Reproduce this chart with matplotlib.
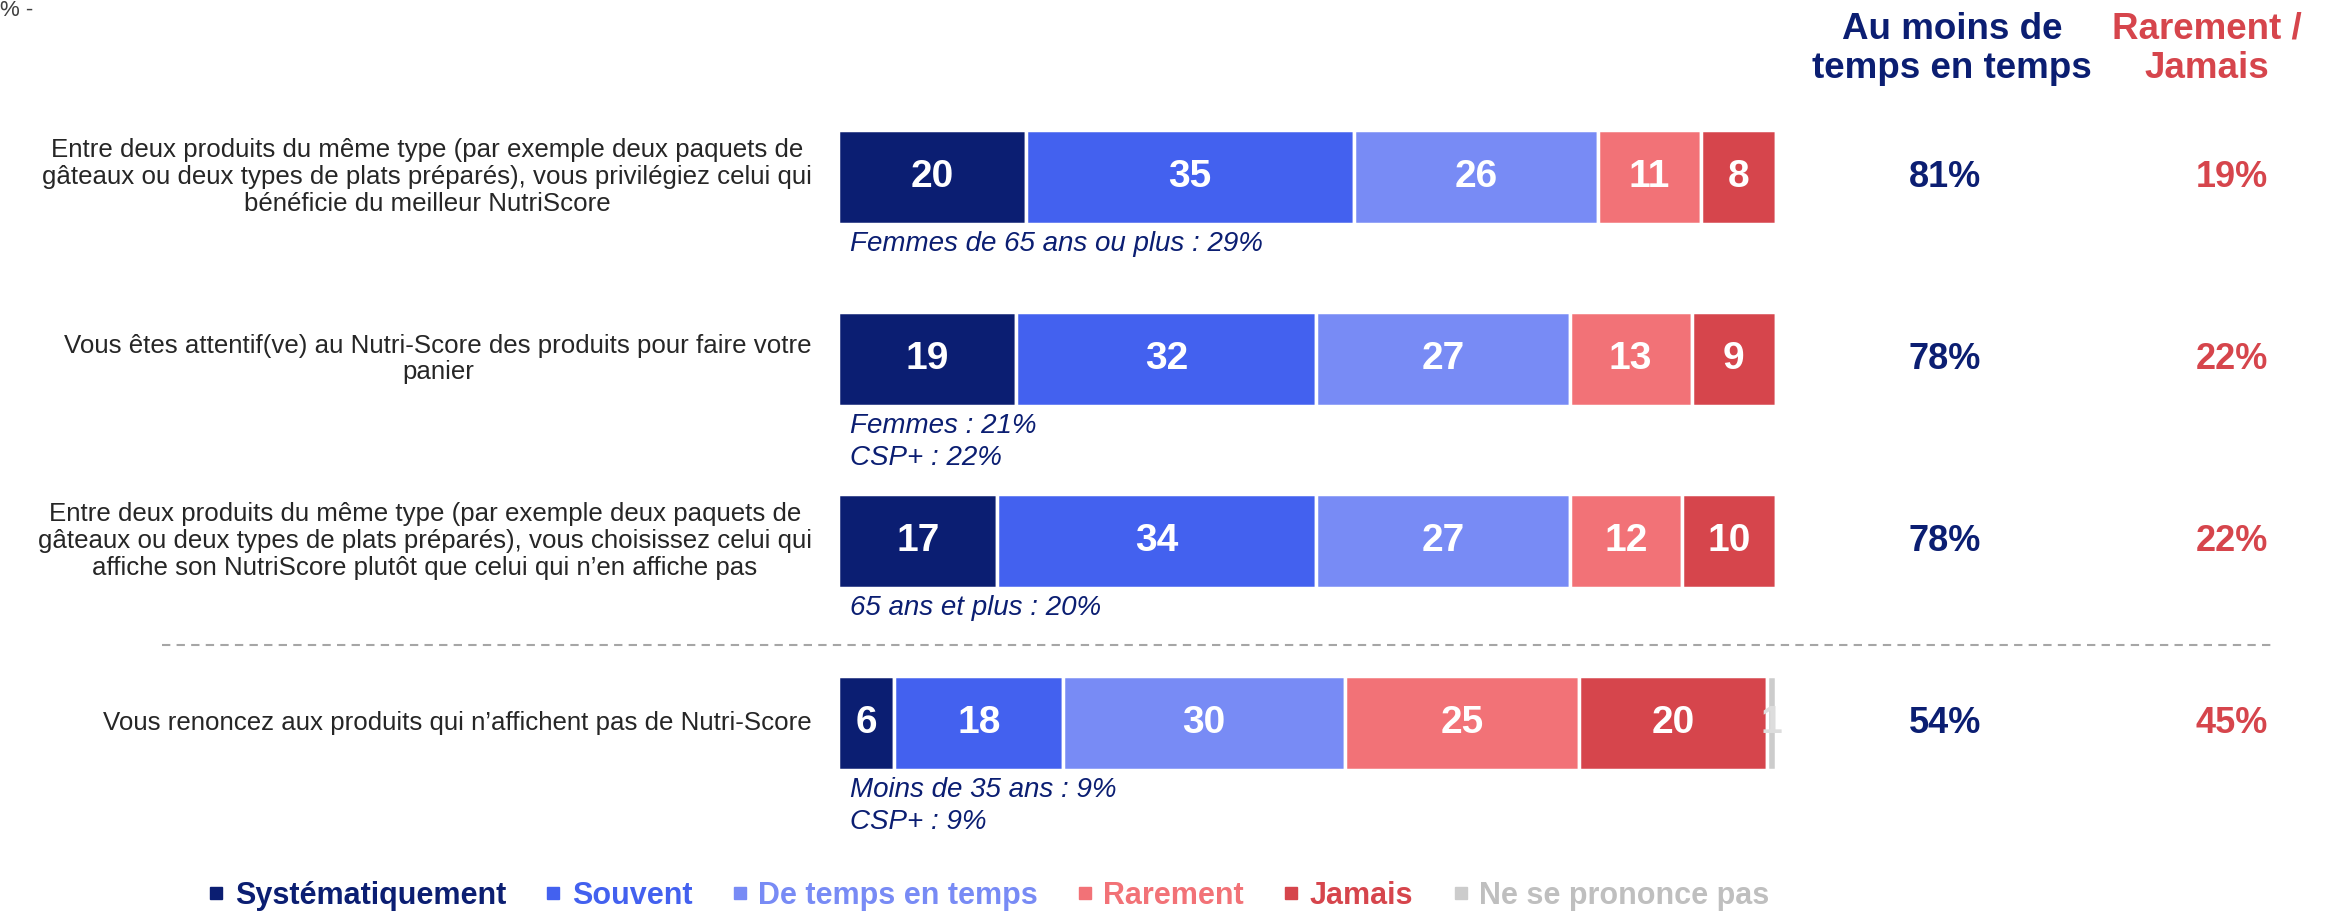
import matplotlib
matplotlib.use("Agg")
import matplotlib.pyplot as plt
from matplotlib.lines import Line2D
import numpy as np

# ---------------- data ----------------
questions = [
    "Entre deux produits du même type (par exemple deux paquets de\ngâteaux ou deux types de plats préparés), vous privilégiez celui qui\nbénéficie du meilleur NutriScore",
    "Vous êtes attentif(ve) au Nutri-Score des produits pour faire votre\npanier",
    "Entre deux produits du même type (par exemple deux paquets de\ngâteaux ou deux types de plats préparés), vous choisissez celui qui\naffiche son NutriScore plutôt que celui qui n\u2019en affiche pas",
    "Vous renoncez aux produits qui n\u2019affichent pas de Nutri-Score",
]
categories = ["Systématiquement", "Souvent", "De temps en temps", "Rarement", "Jamais", "Ne se prononce pas"]
systematiquement = [20, 19, 17, 6]
souvent = [35, 32, 34, 18]
de_temps = [26, 27, 27, 30]
rarement = [11, 13, 12, 25]
jamais = [8, 9, 10, 20]
nspp = [0, 0, 0, 1]
au_moins = ["81%", "78%", "78%", "54%"]
rarement_jamais = ["19%", "22%", "22%", "45%"]
annotations = [
    "Femmes de 65 ans ou plus : 29%",
    "Femmes : 21%\nCSP+ : 22%",
    "65 ans et plus : 20%",
    "Moins de 35 ans : 9%\nCSP+ : 9%",
]

# ---------------- style ----------------
colors = ["#0B1E72", "#4361EF", "#788BF5", "#F27277", "#D6454C", "#CCCCCC"]
label_colors = ["white", "white", "white", "white", "white", "#DDDDDD"]
navy = "#0B1E72"
red = "#D6454C"
W, H = 2346, 913

plt.rcParams['font.family'] = ['Liberation Sans', 'DejaVu Sans']
fig = plt.figure(figsize=(W / 100, H / 100), dpi=100)

bar_left, bar_right = 838, 1776
ax = fig.add_axes([bar_left / W, 0, (bar_right - bar_left) / W, 1])
c0, step = 177, 182
ax.set_xlim(0, 100)
ax.set_ylim(3 + (H - (c0 + 3 * step)) / step, -c0 / step)
ax.axis("off")

series = [systematiquement, souvent, de_temps, rarement, jamais, nspp]
y = np.arange(len(questions))
height = 94 / step
left = np.zeros(len(questions))
for k, vals in enumerate(series):
    vals = np.array(vals, dtype=float)
    ax.barh(y, vals, left=left, height=height, color=colors[k],
            edgecolor="white", linewidth=2.5)
    for i, v in enumerate(vals):
        if v > 0:
            ax.text(left[i] + v / 2, y[i], f"{int(v)}", ha="center", va="center",
                    color=label_colors[k], fontsize=28, fontweight="bold",
                    family=['Liberation Sans Narrow', 'Liberation Sans', 'DejaVu Sans'])
    left += vals

# question labels
for i, q in enumerate(questions):
    ax.annotate(q, xy=(812 / W, y[i]), xycoords=('figure fraction', 'data'),
                ha="right", va="center", multialignment="center",
                fontsize=18.6, color="#262626", linespacing=1.15)

# annotations under bars
for i, a in enumerate(annotations):
    ax.text(1.3, y[i] + height / 2 + 0.04, a, ha="left", va="top",
            style="italic", fontsize=20, color=navy, linespacing=1.3)

# right columns
for i in range(len(questions)):
    ax.annotate(au_moins[i], xy=(1945 / W, y[i]), xycoords=('figure fraction', 'data'),
                ha="center", va="center", fontsize=26, fontweight="bold", color=navy)
    ax.annotate(rarement_jamais[i], xy=(2232 / W, y[i]), xycoords=('figure fraction', 'data'),
                ha="center", va="center", fontsize=26, fontweight="bold", color=red)

fig.text(1952 / W, 1 - 49 / H, "Au moins de\ntemps en temps", ha="center", va="center",
         fontsize=26.5, fontweight="bold", color=navy, linespacing=1.15)
fig.text(2207 / W, 1 - 49 / H, "Rarement /\nJamais", ha="center", va="center",
         fontsize=26.5, fontweight="bold", color=red, linespacing=1.15)

fig.text(0.0, 1.0, "% -", ha="left", va="top", fontsize=16, color="#404040")

# dashed separator
fig.add_artist(Line2D([162 / W, 2274 / W], [1 - 645 / H, 1 - 645 / H],
                      transform=fig.transFigure, color="#A6A6A6", lw=1.5,
                      linestyle=(0, (4, 3))))

# legend
handles = [Line2D([], [], marker="s", linestyle="none", color=c, markersize=9) for c in colors]
leg = fig.legend(handles, categories, loc="center", bbox_to_anchor=(989 / W, 1 - 896 / H),
                 ncol=6, frameon=False, handlelength=0.5, handletextpad=0.35,
                 columnspacing=1.3, borderpad=0,
                 prop={"size": 22, "weight": "bold"})
for t, c in zip(leg.get_texts(), colors):
    t.set_color("#BFBFBF" if c == "#CCCCCC" else c)

fig.savefig("out.png", dpi=100)
